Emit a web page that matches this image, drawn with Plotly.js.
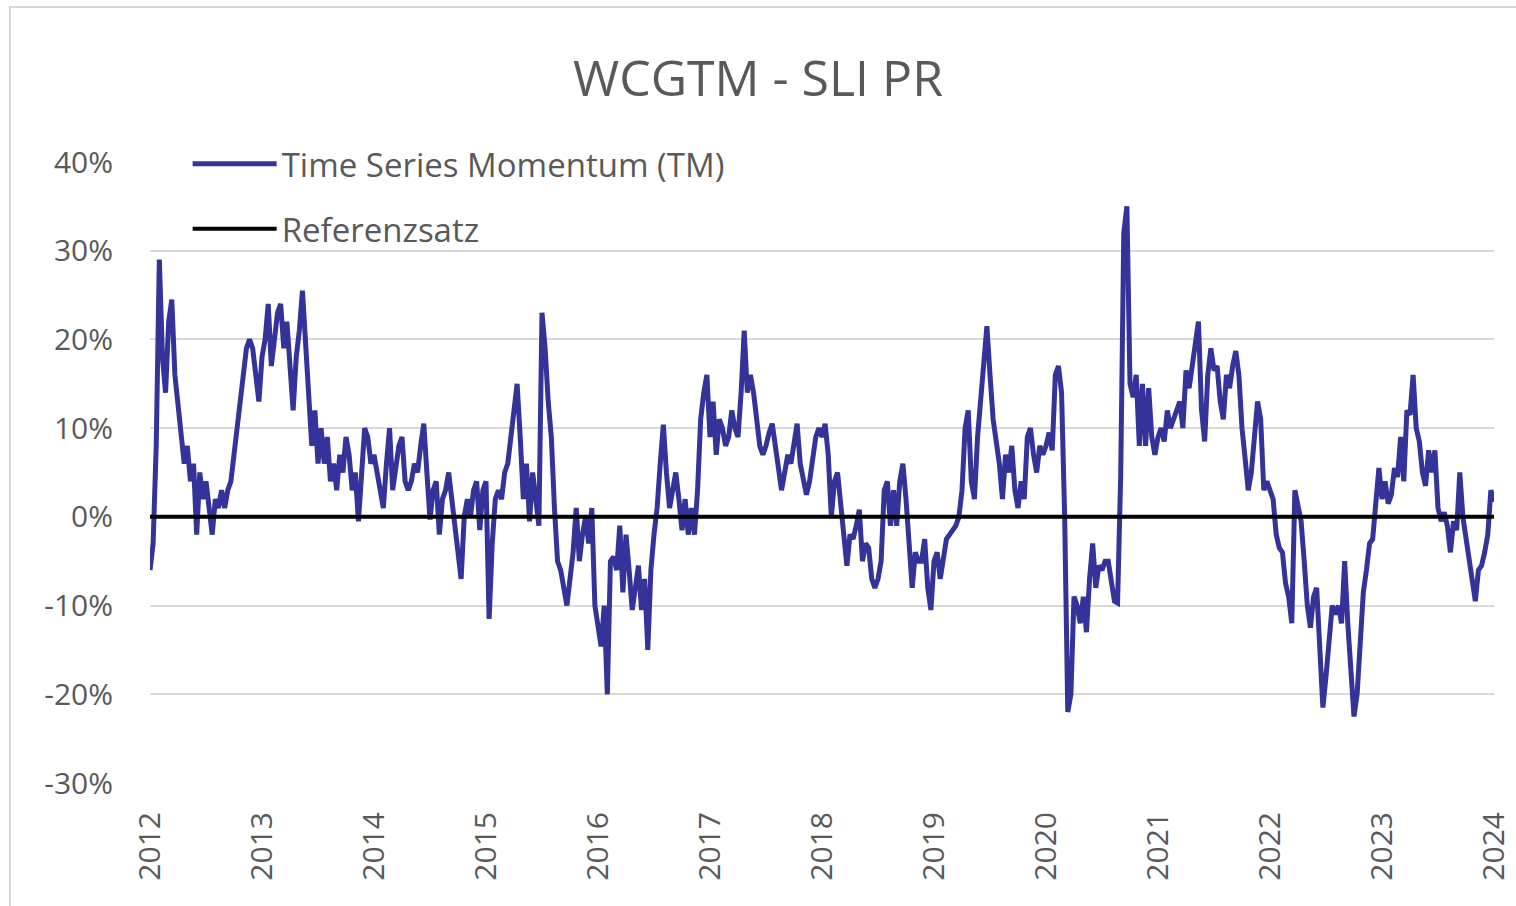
<!DOCTYPE html>
<html>
<head>
<meta charset="utf-8">
<script src="https://cdn.plot.ly/plotly-3.0.1.min.js"></script>
<style>html,body{margin:0;padding:0;background:#fff;}#chart{width:1516px;height:906px;}</style>
</head>
<body>
<div id="chart"></div>
<script>
// Time Series Momentum values (%), 36 readings per year
const tm2012 = [-6,-3,8,29,18,14,22,24.5,16,13,9,6,8,4,6,-2,5,2,4,1,-2,2,1,3,1,3,4,7,10,14,17,19,20,19,16,13];
const tm2013 = [18,20,24,17,20,23,24,19,22,17,12,18,21,25.5,20,14,8,12,6,10,6,9,4,6,3,7,5,9,7,3,5,-0.5,6,10,9,6];
const tm2014 = [7,5,3,1,6,10,3,6,8,9,4,3,4,6,5,8,10.5,5,-0.3,3,4,-2,2,3,5,2,-1,-4,-7,0,2,0,3,4,-1.5,3];
const tm2015 = [4,-11.5,-3,2,3,2,5,6,9,12,15,9,2,6,-0.5,5,2,-1,23,19,13,9,1,-5,-6,-8,-10,-7,-4,1,-5,-2,0,-3,1,-10];
const tm2016 = [-12,-14.6,-10,-20,-5,-4.5,-6,-1,-8.5,-2,-6,-10.5,-8,-5.5,-10.5,-7,-15,-6,-2,1,6,10.4,5,1,3,5,2,-1.5,2,-2,1,-2,3,11,14,16];
const tm2017 = [9,13,7,11,10,8,9,12,10,9,14,21,14,16,14,11,8,7,8,9.5,10.5,8,5.5,3,5,7,6,8,10.5,6,4,2.5,4,7,9,10];
const tm2018 = [9,10.5,7,0,4,5,1,-3,-5.5,-2,-2.5,-1,0.8,-5,-3,-3.5,-7,-8,-7,-5,3,4,-1,3,-1,4,6,2,-4,-8,-4,-5,-5,-2.5,-8,-10.5];
const tm2019 = [-5,-4,-7,-5,-2.5,-2,-1.5,-1,0,3,10,12,4,2,9,13,17,21.5,16,11,8.5,6,2,7,5,8,3,1,4,2,9,10,7,5,8,7];
const tm2020 = [8,9.5,7.5,16,17,14,0,-22,-20,-9,-10,-12,-9,-13,-7,-3,-8,-5.5,-6,-5,-5,-7,-9.5,-9.7,4.5,32,35,15,13.5,16,8,15,8,14.5,9,7];
const tm2021 = [9,10,8.5,12,10,11,12,13,10,16.5,14.5,17,19.5,22,12,8.5,16,19,16.5,17,13,11,16,14.5,17,18.7,16,10,6.6,3,5,9,13,11,3,4];
const tm2022 = [3,2,-2,-3.5,-4,-7.5,-9,-12,3,1.5,-0.5,-5,-10,-12.5,-9,-8,-15,-21.5,-18,-14,-10,-11,-10,-12,-5,-12,-18,-22.5,-20,-13.5,-8.5,-6,-3,-2.5,2,5.5];
const tm2023 = [2,4,1.5,2.5,5.5,4.5,9,4,12,11.5,16,10,8.5,5,3.5,7.5,5,7.5,1,-0.5,0.5,-1,-4,-0.5,-1.5,5,0,-2.5,-5,-8,-9.5,-6,-5.5,-4,-2,3];
const tmEnd = [1.7];

const years = [2012,2013,2014,2015,2016,2017,2018,2019,2020,2021,2022,2023];
const yearSeries = [tm2012,tm2013,tm2014,tm2015,tm2016,tm2017,tm2018,tm2019,tm2020,tm2021,tm2022,tm2023];
const yTickVals = [-30,-20,-10,0,10,20,30,40];
const yTickText = ['-30%','-20%','-10%','0%','10%','20%','30%','40%'];
const xTickVals = [2012,2013,2014,2015,2016,2017,2018,2019,2020,2021,2022,2023,2024];
const xTickText = ['2012','2013','2014','2015','2016','2017','2018','2019','2020','2021','2022','2023','2024'];
const refRate = [0,0];
const refX = [2012,2024];

const xs = [], ys = [];
yearSeries.forEach((arr, k) => {
  arr.forEach((v, i) => { xs.push(years[k] + i / arr.length); ys.push(v); });
});
xs.push(2024); ys.push(tmEnd[0]);

const grey = '#595959';
const fontFam = '"Open Sans", Lato, sans-serif';

const traces = [
  {x: xs, y: ys, type: 'scatter', mode: 'lines', name: 'Time Series Momentum (TM)',
   line: {color: '#333399', width: 5}, legendgroup: 'a', hoverinfo: 'skip'},
  {x: refX, y: refRate, type: 'scatter', mode: 'lines', name: 'Referenzsatz',
   line: {color: '#000000', width: 4}, legendgroup: 'b', hoverinfo: 'skip'}
];

const layout = {
  width: 1516, height: 906,
  paper_bgcolor: '#ffffff', plot_bgcolor: '#ffffff',
  margin: {l: 150, r: 22, t: 162, b: 123},
  title: {text: 'WCGTM - SLI PR', font: {family: fontFam, size: 50, color: grey}, x: 0.5, xanchor: 'center', y: 0.913, yanchor: 'middle'},
  showlegend: true,
  legend: {x: 0.028, y: 1.042, xanchor: 'left', yanchor: 'top', bgcolor: 'rgba(0,0,0,0)',
           font: {family: fontFam, size: 33, color: grey}, itemwidth: 84, tracegroupgap: 19, traceorder: 'grouped'},
  xaxis: {range: [2012, 2024], tickvals: xTickVals, ticktext: xTickText, tickangle: -90,
          showgrid: false, zeroline: false, showline: false, ticks: '', ticklabelstandoff: 22,
          tickfont: {family: fontFam, size: 30, color: grey}, fixedrange: true},
  yaxis: {range: [-30, 40], tickvals: yTickVals, ticktext: yTickText,
          showgrid: true, gridcolor: '#d9d9d9', gridwidth: 2, zeroline: false, showline: false, ticks: '',
          ticklabelstandoff: 36, tickfont: {family: fontFam, size: 30, color: grey}, fixedrange: true},
  shapes: [
    {type: 'rect', xref: 'paper', yref: 'paper', x0: -0.1042, x1: 1.02, y0: -0.3, y1: 1.2496,
     line: {color: '#d9d9d9', width: 2}, fillcolor: 'rgba(0,0,0,0)', layer: 'below'}
  ]
};

Plotly.newPlot('chart', traces, layout, {displayModeBar: false, staticPlot: true});
</script>
</body>
</html>
